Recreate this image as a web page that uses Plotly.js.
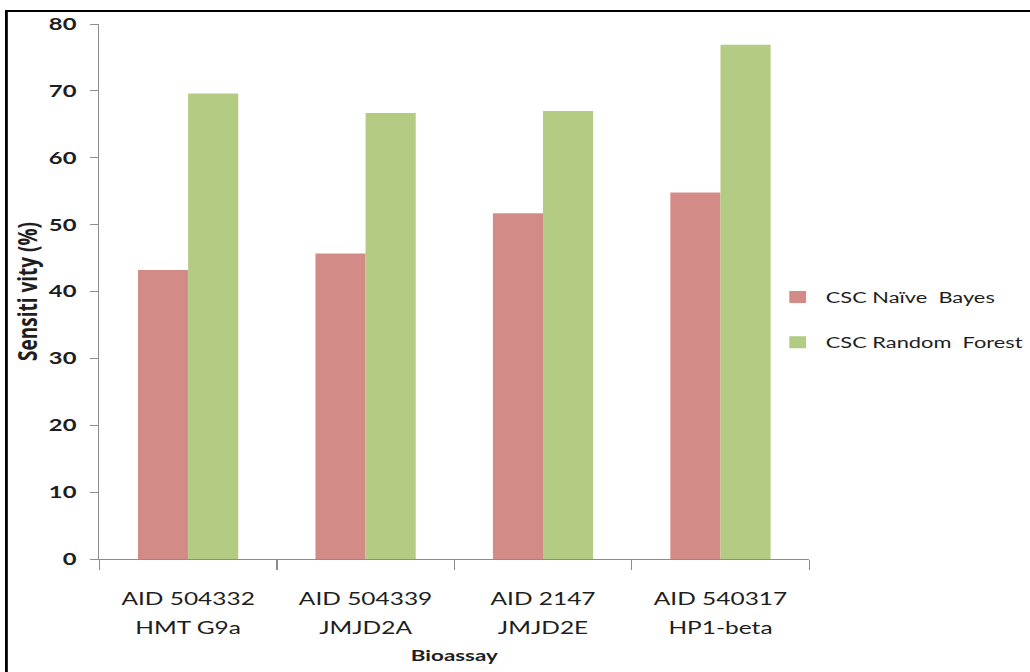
<!DOCTYPE html>
<html>
<head>
<meta charset="utf-8">
<script src="https://cdn.plot.ly/plotly-3.0.1.min.js"></script>
<style>
  html, body { margin: 0; padding: 0; background: #ffffff; overflow: hidden; }
  #wrap { width: 1030px; height: 672px; overflow: hidden; position: relative; }
  /* the chart is laid out narrow and then widened horizontally */
  #chart { width: 736px; height: 672px; transform: scaleX(1.4); transform-origin: 0 0; }
</style>
</head>
<body>
<div id="wrap"><div id="chart"></div></div>
<script>
// Bioassay categories: assay id (first label line) and target (second line)
const assayIds = ['AID 504332', 'AID 504339', 'AID 2147', 'AID 540317'];
const targets = ['HMT G9a', 'JMJD2A', 'JMJD2E', 'HP1-beta'];
// Sensitivity (%) per classifier
const naiveBayes = [43.2, 45.7, 51.7, 54.8];
const randomForest = [69.6, 66.7, 67.0, 76.9];
const seriesNames = ['CSC Naïve  Bayes', 'CSC Random  Forest'];
const yTicks = [0, 10, 20, 30, 40, 50, 60, 70, 80];

const fontFam = 'Lato, "Open Sans", "DejaVu Sans", sans-serif';
const titleFam = '"Open Sans", Lato, "DejaVu Sans", sans-serif';

// two-line category labels with a roomier line spacing
const tickText = assayIds.map((id, i) =>
  '<span style="font-size:17.5px">' + id + '</span><br><span style="font-size:17.5px">' + targets[i] + '</span>');

const traces = [
  {
    type: 'bar', x: assayIds, y: naiveBayes, name: seriesNames[0],
    marker: { color: '#D38B88' }, legendgroup: 'nb', hoverinfo: 'y'
  },
  {
    type: 'bar', x: assayIds, y: randomForest, name: seriesNames[1],
    marker: { color: '#B3CB82' }, legendgroup: 'rf', hoverinfo: 'y'
  }
];

const layout = {
  width: 736, height: 672,
  margin: { l: 71.4, r: 158, t: 24, b: 113, autoexpand: false },
  paper_bgcolor: '#ffffff', plot_bgcolor: '#ffffff',
  barmode: 'group', bargap: 0.435, bargroupgap: 0,
  font: { family: fontFam, color: '#1e1e1e' },
  xaxis: {
    type: 'category',
    tickvals: assayIds, ticktext: tickText,
    tickson: 'boundaries',
    ticks: 'outside', ticklen: 10, tickcolor: '#8c8c8c', tickwidth: 1,
    showline: true, linecolor: '#8c8c8c', linewidth: 1,
    showgrid: false, zeroline: false,
    tickfont: { family: fontFam, size: 22, color: '#1e1e1e' },
    ticklabelstandoff: 19,
    title: { text: 'Bioassay', font: { family: fontFam, size: 16, weight: 'bold', color: '#1e1e1e' }, standoff: 12 },
    automargin: false
  },
  yaxis: {
    range: [0, 80],
    tickvals: yTicks,
    ticks: 'outside', ticklen: 6, tickcolor: '#8c8c8c', tickwidth: 1,
    showline: true, linecolor: '#8c8c8c', linewidth: 1,
    showgrid: false, zeroline: false,
    tickfont: { family: fontFam, size: 17, weight: 'bold', color: '#1e1e1e' },
    ticklabelstandoff: 6,
    title: { text: 'Sensiti vity (%)', font: { family: titleFam, size: 19, weight: 'bold', color: '#1e1e1e' }, standoff: 2 },
    automargin: false
  },
  showlegend: true,
  legend: {
    xref: 'container', yref: 'container',
    x: 0.747, y: 0.524, xanchor: 'left', yanchor: 'middle',
    font: { family: fontFam, size: 15.6, color: '#1e1e1e' },
    tracegroupgap: 22, traceorder: 'grouped',
    bgcolor: 'rgba(0,0,0,0)'
  },
  shapes: [
    {
      type: 'rect', xref: 'paper', yref: 'paper', layer: 'above',
      x0: -0.131, x1: 2, y0: -0.5, y1: 1.0243,
      line: { color: '#000000', width: 2 }, fillcolor: 'rgba(0,0,0,0)'
    }
  ]
};

Plotly.newPlot('chart', traces, layout, { displayModeBar: false, staticPlot: true });
</script>
</body>
</html>
